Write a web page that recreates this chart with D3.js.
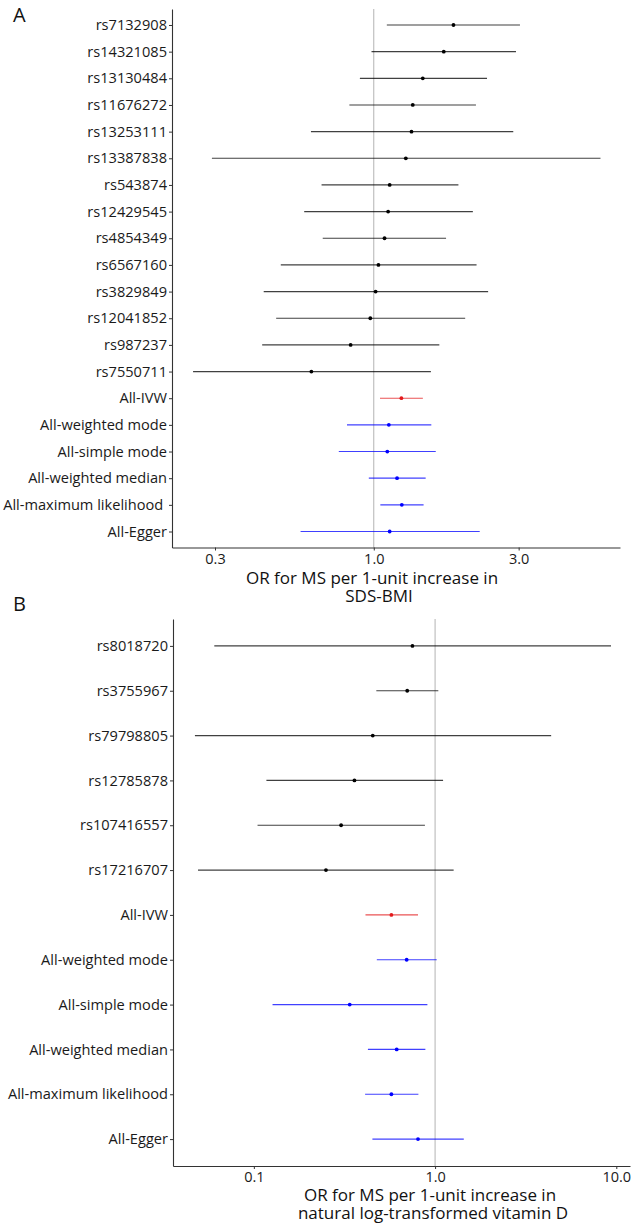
<!DOCTYPE html>
<html>
<head>
<meta charset="utf-8">
<script src="https://cdn.jsdelivr.net/npm/d3@7"></script>
<style>
  html, body { margin: 0; padding: 0; background: #fff; }
  svg { display: block; font-family: "Open Sans", "Noto Sans", sans-serif; }
  .y-axis text { white-space: pre; }
</style>
</head>
<body>
<svg id="chart" width="632" height="1224"></svg>
<script>
// ---------- Panel A data (SDS-BMI) ----------
const labelsA = ["rs7132908","rs14321085","rs13130484","rs11676272","rs13253111","rs13387838","rs543874","rs12429545","rs4854349","rs6567160","rs3829849","rs12041852","rs987237","rs7550711","All-IVW","All-weighted mode","All-simple mode","All-weighted median","All-maximum likelihood ","All-Egger"];
const orA  = [1.83,1.70,1.45,1.344,1.331,1.275,1.128,1.115,1.085,1.036,1.014,0.974,0.839,0.623,1.233,1.121,1.108,1.193,1.237,1.128];
const loA  = [1.104,0.983,0.900,0.831,0.621,0.293,0.673,0.590,0.679,0.494,0.434,0.477,0.429,0.254,1.048,0.816,0.767,0.963,1.051,0.574];
const hiA  = [3.03,2.94,2.36,2.17,2.88,5.58,1.90,2.12,1.73,2.18,2.38,2.00,1.644,1.542,1.451,1.547,1.600,1.482,1.459,2.233];
const ticksA = [0.3, 1.0, 3.0];
const titleA = ["OR for MS per 1-unit increase in", "SDS-BMI"];

// ---------- Panel B data (vitamin D) ----------
const labelsB = ["rs8018720","rs3755967","rs79798805","rs12785878","rs107416557","rs17216707","All-IVW","All-weighted mode","All-simple mode","All-weighted median","All-maximum likelihood","All-Egger"];
const orB  = [0.750,0.702,0.453,0.359,0.303,0.250,0.574,0.697,0.338,0.614,0.574,0.805];
const loB  = [0.0605,0.474,0.0473,0.1173,0.1048,0.0492,0.413,0.477,0.1268,0.426,0.411,0.451];
const hiB  = [9.35,1.042,4.37,1.107,0.879,1.266,0.805,1.021,0.907,0.884,0.809,1.440];
const ticksB = [0.1, 1.0, 10.0];
const titleB = ["OR for MS per 1-unit increase in", "natural log-transformed vitamin D"];

function colorFor(name) {
  const n = name.trim();
  if (n === "All-IVW") return "#e31a1c";
  if (n.startsWith("All-")) return "#0000ff";
  return "#000000";
}

const svg = d3.select("#chart");

function drawPanel(cfg) {
  const g = svg.append("g");
  const x = d3.scaleLog().domain(cfg.xDomain).range([cfg.left, cfg.right]);
  const y = d3.scalePoint().domain(cfg.labels).range([cfg.top, cfg.bottom]).padding(0.6);

  // reference line at OR = 1
  g.append("line")
    .attr("x1", x(1)).attr("x2", x(1))
    .attr("y1", cfg.top).attr("y2", cfg.bottom)
    .attr("stroke", "#b3b3b3").attr("stroke-width", 1);

  const rows = cfg.labels.map((l, i) => ({ label: l, or: cfg.or[i], lo: cfg.lo[i], hi: cfg.hi[i] }));

  g.selectAll("line.ci").data(rows).enter().append("line")
    .attr("class", "ci")
    .attr("x1", d => x(d.lo)).attr("x2", d => x(d.hi))
    .attr("y1", d => y(d.label)).attr("y2", d => y(d.label))
    .attr("stroke", d => colorFor(d.label))
    .attr("stroke-opacity", 0.75)
    .attr("stroke-width", 1.15);

  g.selectAll("circle.pt").data(rows).enter().append("circle")
    .attr("class", "pt")
    .attr("cx", d => x(d.or)).attr("cy", d => y(d.label))
    .attr("r", 1.9)
    .attr("fill", d => colorFor(d.label));

  // y axis
  const ya = g.append("g").attr("class", "y-axis")
    .attr("transform", `translate(${cfg.left},0)`)
    .call(d3.axisLeft(y).tickSize(3).tickSizeOuter(0).tickPadding(2));
  ya.select(".domain").attr("stroke", "#333").attr("stroke-width", 1.1);
  ya.selectAll(".tick line").attr("stroke", "#333");
  ya.selectAll(".tick text").attr("fill", "#1a1a1a")
    .style("font-size", "14.6px").style("font-family", '"Open Sans", sans-serif');

  // x axis
  const xa = g.append("g")
    .attr("transform", `translate(0,${cfg.bottom})`)
    .call(d3.axisBottom(x).tickValues(cfg.ticks).tickFormat(d3.format(".1f")).tickSize(3).tickSizeOuter(0).tickPadding(3));
  xa.select(".domain").attr("stroke", "#333").attr("stroke-width", 1.1);
  xa.selectAll(".tick line").attr("stroke", "#333");
  xa.selectAll(".tick text").attr("fill", "#1a1a1a")
    .style("font-size", "14.5px").style("font-family", '"Open Sans", sans-serif');

  // axis title
  cfg.title.forEach((t, i) => {
    g.append("text")
      .attr("x", cfg.titleX[i]).attr("y", cfg.titleY + i * 18)
      .attr("text-anchor", "middle")
      .attr("fill", "#111")
      .style("font-size", "17px")
      .text(t);
  });

  // panel letter
  g.append("text")
    .attr("x", 13).attr("y", cfg.letterY)
    .attr("fill", "#111")
    .style("font-size", "20px")
    .text(cfg.letter);
}

drawPanel({
  labels: labelsA, or: orA, lo: loA, hi: hiA, ticks: ticksA, title: titleA,
  xDomain: [0.2165, 6.47], left: 172, right: 620, top: 9, bottom: 547.5,
  titleX: [372, 379], titleY: 584, letter: "A", letterY: 22
});

drawPanel({
  labels: labelsB, or: orB, lo: loB, hi: hiB, ticks: ticksB, title: titleB,
  xDomain: [0.0358, 11.9], left: 173, right: 630, top: 619, bottom: 1166,
  titleX: [430, 433], titleY: 1201, letter: "B", letterY: 611
});
</script>
</body>
</html>
